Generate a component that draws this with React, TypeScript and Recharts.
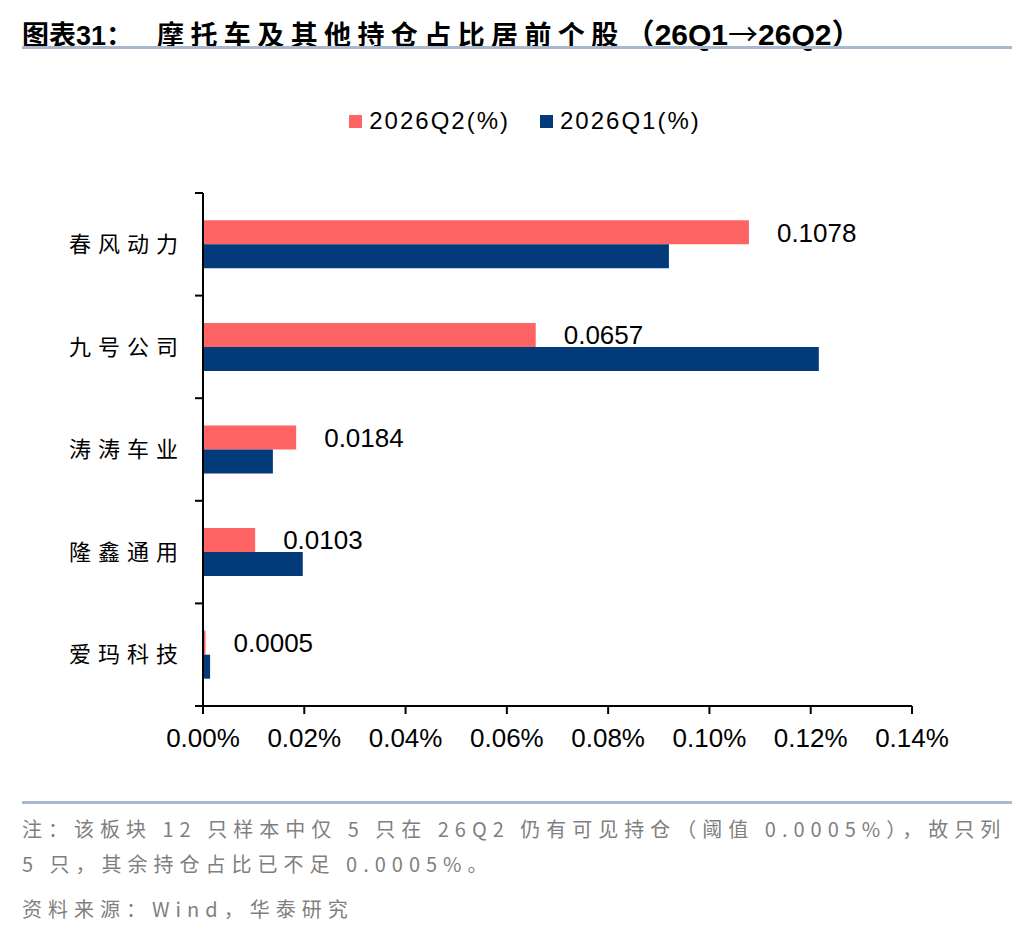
import React from "react";
import { BarChart, Bar, XAxis, YAxis, Legend, LabelList } from "recharts";

const stocks = ["春风动力", "九号公司", "涛涛车业", "隆鑫通用", "爱玛科技"];
const q2Values = [0.1078, 0.0657, 0.0184, 0.0103, 0.0005];
const q1Values = [0.092, 0.1216, 0.0138, 0.0197, 0.0014];
const xTicks = [0, 0.02, 0.04, 0.06, 0.08, 0.1, 0.12, 0.14];
const seriesOrder = ["q2", "q1"];

const data = stocks.map((name, i) => ({ name, q2: q2Values[i], q1: q1Values[i] }));

const RED = "#ff6464";
const BLUE = "#023a7a";
const LATIN = "'Liberation Sans', Arial, 'Noto Sans CJK SC', sans-serif";
const CJK = "'Noto Sans CJK SC', 'Liberation Sans', sans-serif";

const TICK_MARGIN = 18;
const TICK_LEN = 8;

const CategoryTick = (props: any) => {
  const { x, y, payload, index, visibleTicksCount } = props;
  const half = payload && payload.offset ? payload.offset : 51.3;
  const ax = x + TICK_MARGIN;
  const last = index === (visibleTicksCount ?? stocks.length) - 1;
  return (
    <g>
      <line x1={ax - TICK_LEN} x2={ax} y1={y - half} y2={y - half} stroke="#000" strokeWidth={2} />
      {last && <line x1={ax - TICK_LEN} x2={ax} y1={y + half} y2={y + half} stroke="#000" strokeWidth={2} />}
      <text x={x} y={y} dy="0.35em" textAnchor="end" fontSize={22} letterSpacing={7} fill="#000" fontFamily={CJK}>
        {payload.value}
      </text>
    </g>
  );
};

const renderLegend = (props: any) => {
  const items = [...(props.payload || [])].sort(
    (a: any, b: any) => seriesOrder.indexOf(a.dataKey) - seriesOrder.indexOf(b.dataKey)
  );
  return (
    <div style={{ display: "flex", justifyContent: "center", alignItems: "center", paddingLeft: 14 }}>
      {items.map((p: any, i: number) => (
        <div key={i} style={{ display: "flex", alignItems: "center", marginRight: i === 0 ? 30 : 0 }}>
          <span style={{ width: 13, height: 13, background: p.color, display: "inline-block", marginRight: 7 }} />
          <span style={{ fontSize: 24, letterSpacing: 2, fontFamily: LATIN, color: "#000" }}>{p.value}</span>
        </div>
      ))}
    </div>
  );
};

const noteStyle: React.CSSProperties = {
  position: "absolute",
  left: 22,
  fontSize: 20,
  letterSpacing: 6,
  color: "#7f7f7f",
  fontFamily: CJK,
  whiteSpace: "nowrap",
};

export default function App() {
  return (
    <div style={{ position: "absolute", left: 0, top: 0, width: 1036, height: 936, background: "#fff", overflow: "hidden" }}>
      <div style={{ position: "absolute", left: 22, top: 12, fontSize: 27, fontWeight: 700, fontFamily: LATIN, color: "#000", whiteSpace: "nowrap", lineHeight: "40px" }}>
        <span>图表31：</span>
        <span style={{ marginLeft: 24, letterSpacing: 6.4 }}>摩托车及其他持仓占比居前个股</span>
        <span style={{ fontSize: 30 }}>
          （26Q1<span style={{ fontFamily: CJK, fontWeight: 400 }}>→</span>26Q2）
        </span>
      </div>
      <div style={{ position: "absolute", left: 22, top: 46, width: 990, height: 3, background: "#a8b9cd" }} />

      <div style={{ position: "absolute", left: 0, top: 0 }}>
        <BarChart
          width={1036}
          height={780}
          data={data}
          layout="vertical"
          barCategoryGap="26.6%"
          barGap={0}
          margin={{ top: 193, right: 124, bottom: 44, left: 23 }}
        >
          <XAxis
            type="number"
            domain={[0, 0.14]}
            ticks={xTicks}
            interval={0}
            tickFormatter={(v: number) => v.toFixed(2) + "%"}
            axisLine={{ stroke: "#000", strokeWidth: 2 }}
            tickLine={{ stroke: "#000", strokeWidth: 2 }}
            tickSize={8}
            tickMargin={15}
            tick={{ fontSize: 26, fill: "#000", fontFamily: LATIN }}
          />
          <YAxis
            type="category"
            dataKey="name"
            width={180}
            axisLine={{ stroke: "#000", strokeWidth: 2 }}
            tickLine={false}
            tickSize={0}
            tickMargin={TICK_MARGIN}
            interval={0}
            tick={<CategoryTick />}
          />
          <Legend
            layout="horizontal"
            verticalAlign="middle"
            align="center"
            content={renderLegend}
            wrapperStyle={{ top: 107, left: 0, width: 1036 }}
          />
          <Bar dataKey="q2" name="2026Q2(%)" fill={RED} isAnimationActive={false}>
            <LabelList
              dataKey="q2"
              position="right"
              offset={28}
              formatter={(v: any) => Number(v).toFixed(4)}
              style={{ fontSize: 26, fill: "#000", fontFamily: LATIN }}
            />
          </Bar>
          <Bar dataKey="q1" name="2026Q1(%)" fill={BLUE} isAnimationActive={false} />
        </BarChart>
      </div>

      <div style={{ position: "absolute", left: 22, top: 801, width: 990, height: 3, background: "#a8b9cd" }} />
      <div style={{ ...noteStyle, top: 811, lineHeight: "35px" }}>
        注：该板块 12 只样本中仅 5 只在 26Q2 仍有可见持仓（阈值 0.0005%），故只列
        <br />
        5 只，其余持仓占比已不足 0.0005%。
      </div>
      <div style={{ ...noteStyle, top: 893, lineHeight: "32px" }}>资料来源：Wind，华泰研究</div>
    </div>
  );
}
